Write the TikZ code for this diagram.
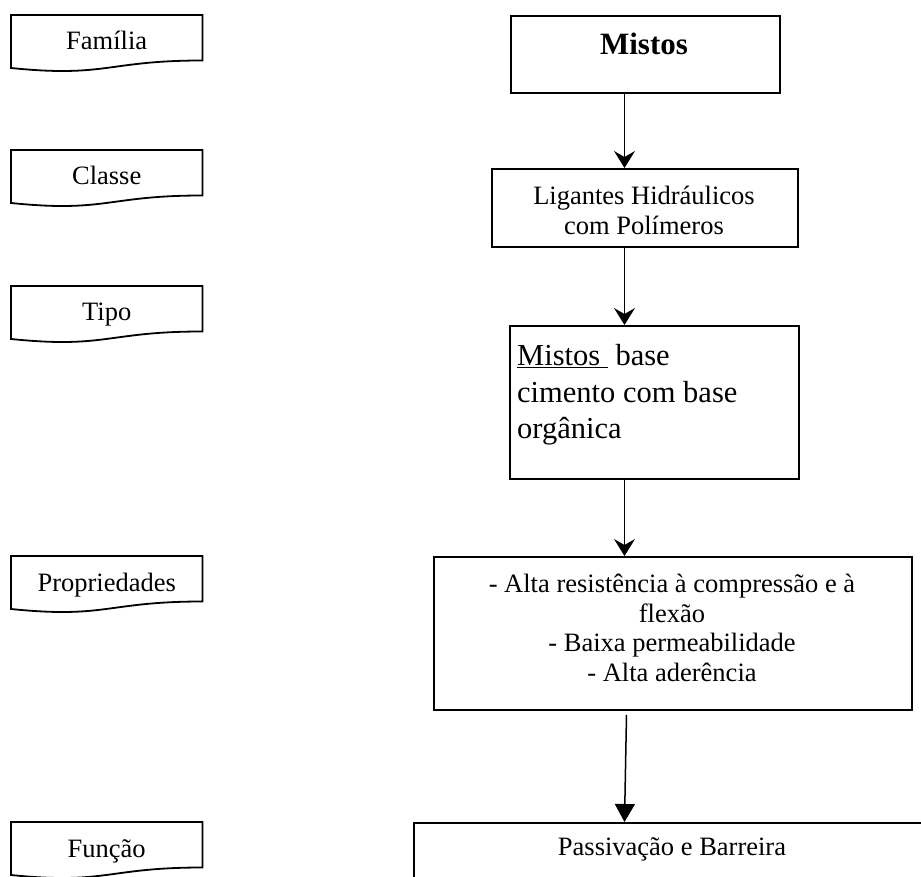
\documentclass[tikz,border=0pt]{standalone}
\usepackage{fontspec}
\setmainfont{Liberation Serif}
\usetikzlibrary{arrows.meta,calc}

\tikzset{
  frame/.style={draw=black, line width=1.8pt, inner sep=0pt, anchor=north west},
  docbox/.style={draw=none, inner sep=0pt, anchor=north west,
    minimum width=191pt, minimum height=56.7pt},
  tag/.style={font=\fontsize{26.5}{30}\selectfont, inner sep=0pt, anchor=base},
  body/.style={font=\fontsize{26.5}{29.5}\selectfont, inner sep=0pt, align=center, anchor=north},
  flow/.style={line width=1.5pt, -{Stealth[length=17pt,width=21pt,inset=6pt]}},
  flowtri/.style={line width=1.5pt, -{Triangle[length=18pt,width=20pt]}},
}

% wavy-bottom "document" outline around an empty node
\newcommand\docoutline[1]{%
  \draw[line width=1.8pt, line join=miter]
    (#1.north west) -- (#1.north east) -- ($(#1.north east)+(0pt,-45.5pt)$)
    .. controls ($(#1.north)+(0pt,-45.5pt)$) and ($(#1.north)+(0pt,-62.8pt)$)
    .. ($(#1.north west)+(0pt,-53pt)$) -- cycle;}

\begin{document}
\begin{tikzpicture}[x=1pt,y=-1pt]
\useasboundingbox (0,0) rectangle (921,877);
\clip (0,0) rectangle (921,877);

% level tags on the left
\node[docbox] (dfam) at (11,15) {};
\node[docbox] (dcla) at (11,150) {};
\node[docbox] (dtip) at (11,286) {};
\node[docbox] (dpro) at (11,556) {};
\node[docbox] (dfun) at (11,822) {};
\docoutline{dfam}
\docoutline{dcla}
\docoutline{dtip}
\docoutline{dpro}
\docoutline{dfun}
\node[tag] (tfam) at ($(dfam.north)+(0pt,-35pt)$) {Família};
\node[tag] (tcla) at ($(dcla.north)+(0pt,-35pt)$) {Classe};
\node[tag] (ttip) at ($(dtip.north)+(0pt,-35pt)$) {Tipo};
\node[tag] (tpro) at ($(dpro.north)+(0pt,-35pt)$) {Propriedades};
\node[tag] (tfun) at ($(dfun.north)+(0pt,-35pt)$) {Função};

% main chain
\node[frame, minimum width=269pt, minimum height=77pt] (mistos) at (510,15) {};
\node[frame, minimum width=306pt, minimum height=78pt] (lig) at (491,168) {};
\node[frame, minimum width=289pt, minimum height=153pt] (tipo) at (509,325) {};
\node[frame, minimum width=478pt, minimum height=153pt] (prop) at (433,556) {};
\node[frame, minimum width=525pt, minimum height=90pt] (func) at (413,822) {};

\node[inner sep=0pt, anchor=base, font=\fontsize{31}{36}\selectfont\bfseries] (tmistos) at (644,55) {Mistos};
\node[body] (tlig) at (644,186) {Ligantes Hidráulicos\\com Polímeros};
\node[inner sep=0pt, anchor=north west, align=left, font=\fontsize{30.5}{36.7}\selectfont] (ttipo) at (517,344)
  {\underline{Mistos\ }\ base\\cimento com base\\orgânica};
\node[body] (tprop) at (672,574)
  {- Alta resistência à compressão e à\\flexão\\- Baixa permeabilidade\\- Alta aderência};
\node[tag] (tfunc) at (672,855) {Passivação e Barreira};

% connectors
\coordinate (ax) at (624.5,0);
\draw[flow] (ax |- mistos.south) -- (ax |- lig.north);
\draw[flow] (ax |- lig.south) -- (ax |- tipo.north);
\draw[flow] (ax |- tipo.south) -- (ax |- prop.north);
\draw[flowtri] ($(ax |- prop.south)+(2pt,-4pt)$) -- (ax |- func.north);
\end{tikzpicture}
\end{document}
